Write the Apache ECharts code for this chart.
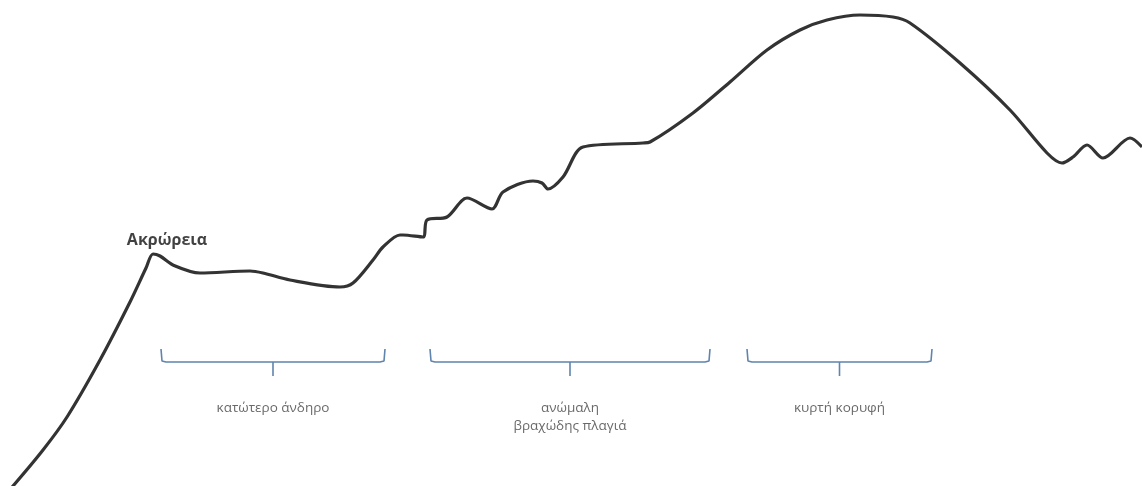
<!DOCTYPE html>
<html><head><meta charset="utf-8">
<script src="https://cdn.jsdelivr.net/npm/echarts@6/dist/echarts.min.js"></script>
<style>html,body{margin:0;padding:0;background:#fff}#c{width:1142px;height:486px}</style>
</head><body><div id="c"></div>
<script>
// Profile: distance (x) and elevation (486 - screen height units)
const profileX = [0,13,43,67,100,130,146,153,160,173,200,250,263,290,340,353,373,383,400,403,423,427,447,467,492,503,533,542,548,563,583,643,650,693,730,767,800,827,860,893,910,960,1010,1047,1062,1073,1087,1103,1130,1142];
const profileY = [500,486,450,417,360,302,268,254,256,265,273,271,273,280,287,283,260,247,235,235,237,220,217,198,209,192,181,183,189,177,147,143,142,113,82,50,30,20,15,17,23,63,110,153,163,157,145,158,138,147];
const elevation = profileY.map(v => 486 - v);

const peakName = 'Ακρώρεια';
const peakPos = [167, 486 - 240];

const zoneNames = ['κατώτερο άνδηρο', 'ανώμαλη\nβραχώδης πλαγιά', 'κυρτή κορυφή'];
const zoneStart = [161, 430, 747];
const zoneEnd = [385, 710, 932];

const chart = echarts.init(document.getElementById('c'));
const bracketTop = 486 - 349, bracketBase = 486 - 362, tickEnd = 486 - 376, labelY = 486 - 399;

const series = [{
  type: 'line',
  data: profileX.map((x, i) => [x, elevation[i]]),
  smooth: 0.3,
  symbol: 'none',
  lineStyle: { color: '#333', width: 3.2 },
  z: 5
}];
zoneNames.forEach((name, i) => {
  const mid = (zoneStart[i] + zoneEnd[i]) / 2;
  series.push({
    type: 'line', symbol: 'none', smooth: false,
    lineStyle: { color: '#5f84ad', width: 1.6 },
    data: [[zoneStart[i], bracketTop], [zoneStart[i] + 1, bracketBase + 1], [zoneStart[i] + 5, bracketBase], [zoneEnd[i] - 5, bracketBase], [zoneEnd[i] - 1, bracketBase + 1], [zoneEnd[i], bracketTop]]
  });
  series.push({
    type: 'line', symbol: 'none',
    lineStyle: { color: '#5f84ad', width: 1.6 },
    data: [[mid, bracketBase], [mid, tickEnd]]
  });
  series.push({
    type: 'scatter', symbolSize: 0,
    data: [[mid, labelY]],
    label: { show: true, position: 'inside', formatter: name, color: '#444',
      fontFamily: 'Open Sans, sans-serif', fontSize: 13.5, lineHeight: 18, verticalAlign: 'top' }
  });
});
series.push({
  type: 'scatter', symbolSize: 0,
  data: [peakPos],
  label: { show: true, position: 'inside', formatter: peakName, color: '#111',
    fontFamily: 'Open Sans, sans-serif', fontSize: 16, fontWeight: 'bold' }
});

chart.setOption({
  animation: false,
  grid: { left: 0, right: 0, top: 0, bottom: 0 },
  xAxis: { type: 'value', min: 0, max: 1142, show: false },
  yAxis: { type: 'value', min: 0, max: 486, show: false },
  series
});
</script></body></html>
